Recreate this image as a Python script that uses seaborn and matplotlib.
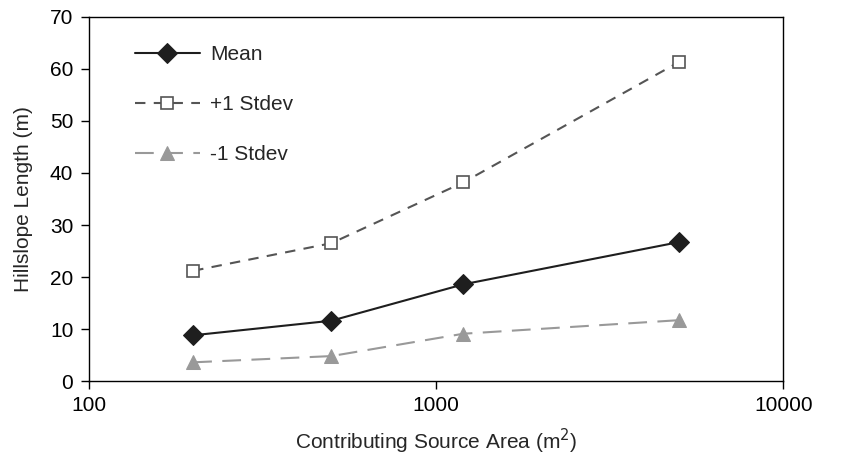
import pandas as pd
import matplotlib
matplotlib.use("Agg")
import matplotlib.pyplot as plt
import seaborn as sns
from matplotlib.ticker import FixedLocator, NullLocator

sns.set_style("white")
plt.rcParams.update({
    "font.family": ["Liberation Sans", "DejaVu Sans"],
    "axes.edgecolor": "#000000",
    "axes.linewidth": 1.0,
    "xtick.color": "#000000",
    "ytick.color": "#000000",
})

area = [200, 500, 1200, 5000]
mean_len = [8.8, 11.6, 18.6, 26.7]
plus_sd = [21.2, 26.5, 38.2, 61.3]
minus_sd = [3.6, 4.8, 9.1, 11.7]

df = pd.DataFrame({"area": area, "mean": mean_len, "plus": plus_sd, "minus": minus_sd})

fig, ax = plt.subplots(figsize=(8.44, 4.58), dpi=100)

sns.lineplot(data=df, x="area", y="mean", ax=ax, color="#1e1e1e", linewidth=1.5,
             marker="D", markersize=10, markeredgecolor="#1e1e1e", markerfacecolor="#1e1e1e",
             label="Mean")
sns.lineplot(data=df, x="area", y="plus", ax=ax, color="#555555", linewidth=1.5,
             marker="s", markersize=9, markeredgecolor="#555555", markerfacecolor="white",
             markeredgewidth=1.2, dashes=(5, 4), label="+1 Stdev")
sns.lineplot(data=df, x="area", y="minus", ax=ax, color="#999999", linewidth=1.5,
             marker="^", markersize=10, markeredgecolor="#999999", markerfacecolor="#999999",
             dashes=(9, 5), label="-1 Stdev")

ax.set_xscale("log")
ax.set_xlim(100, 10000)
ax.set_ylim(0, 70)
ax.xaxis.set_major_locator(FixedLocator([100, 1000, 10000]))
ax.xaxis.set_minor_locator(NullLocator())
ax.set_xticklabels(["100", "1000", "10000"])
ax.set_yticks(range(0, 71, 10))
ax.tick_params(axis="both", which="major", direction="out", length=6, width=1,
               labelsize=15, bottom=True, left=True, pad=5)
for s in ax.spines.values():
    s.set_visible(True)
    s.set_color("black")

ax.set_xlabel("Contributing Source Area (m$^2$)", fontsize=15, labelpad=8)
ax.set_ylabel("Hillslope Length (m)", fontsize=15)
ax.yaxis.set_label_coords(-0.08, 0.5)

ax.legend(loc="upper left", frameon=False, fontsize=15, handlelength=3.1,
          labelspacing=1.5, bbox_to_anchor=(0.04, 0.975), handletextpad=0.5)

fig.subplots_adjust(left=0.105, right=0.928, top=0.963, bottom=0.168)
fig.savefig("out.png", dpi=100)
